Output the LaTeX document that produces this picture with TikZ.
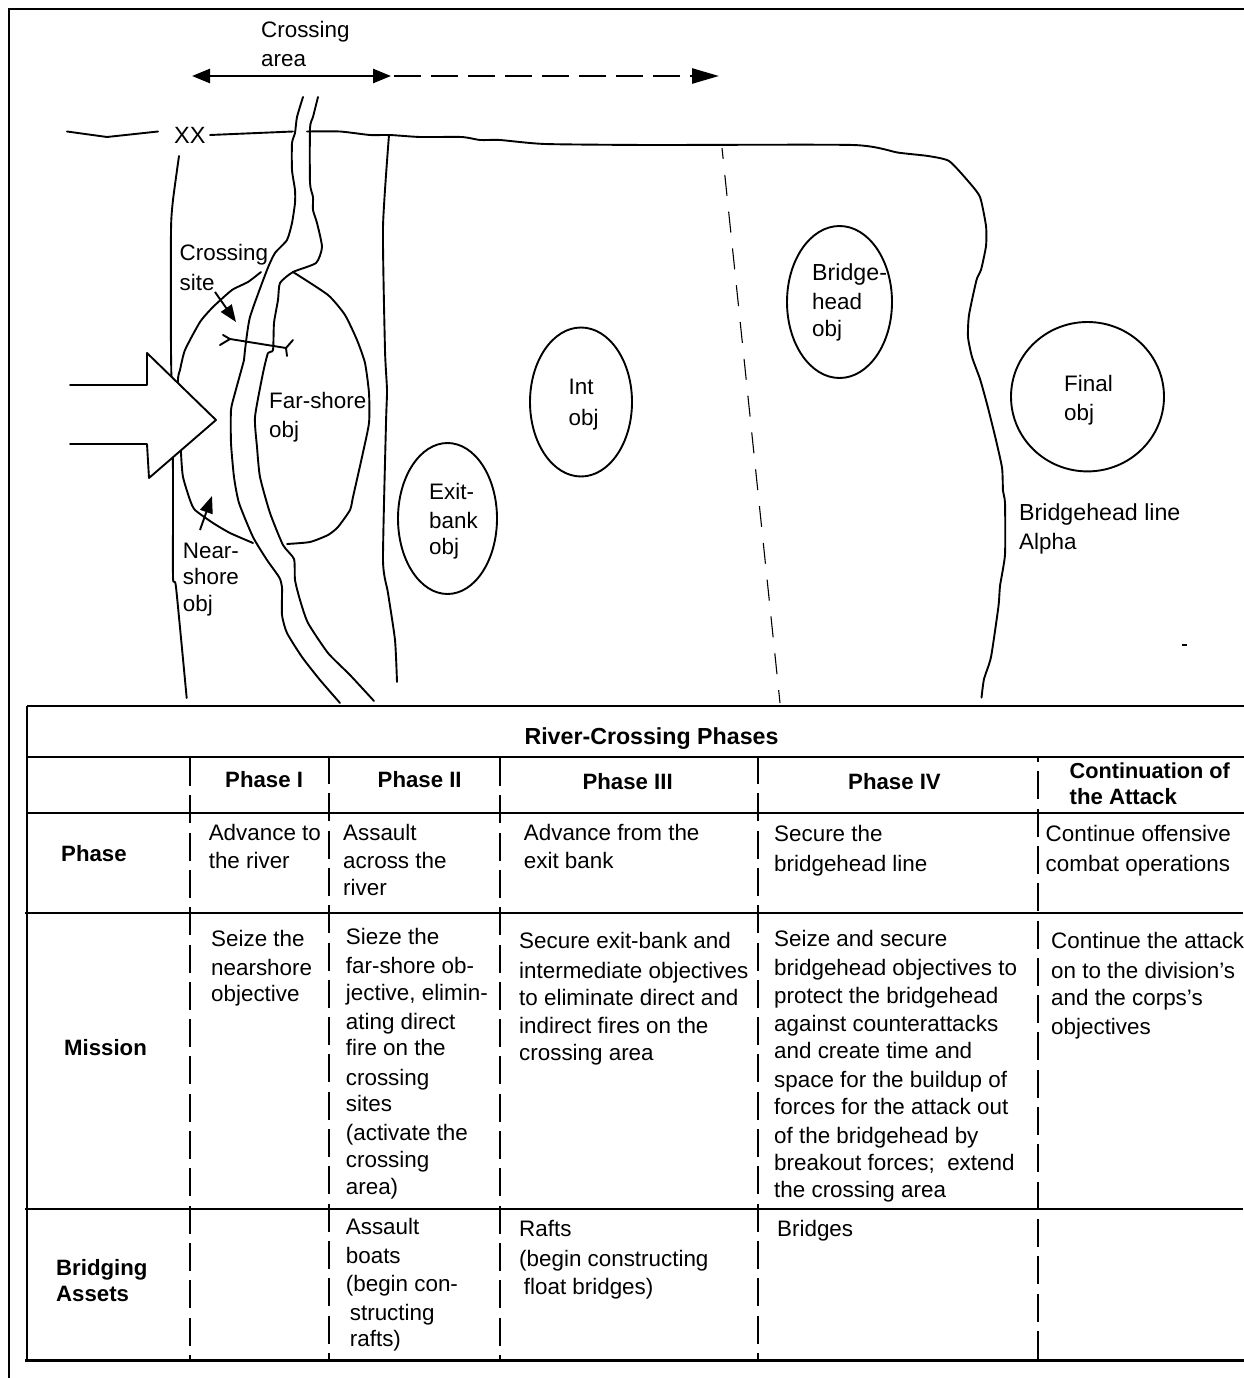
\documentclass[tikz,border=0pt]{standalone}
\usepackage{fontspec}
\setmainfont{Liberation Sans}
\usetikzlibrary{arrows.meta}
\tikzset{
  ln/.style={line width=1.9pt,line join=round,line cap=round},
  heavy/.style={line width=2.6pt},
  thinline/.style={line width=1.1pt,dash pattern=on 21pt off 16pt,dash phase=10pt},
  frameline/.style={line width=2.2pt},
  rowline/.style={line width=2pt},
  colline/.style={line width=1.9pt,dash pattern=on 28pt off 9.3pt},
  tb/.style={anchor=north west,inner sep=0pt,align=left,font=\fontsize{22.4}{26}\selectfont},
  tbb/.style={tb,font=\fontsize{22.2}{26}\selectfont\bfseries},
  bigtip/.style={-{Triangle[length=17pt,width=13pt]}},
  dtip/.style={{Triangle[length=18pt,width=14pt]}-{Triangle[length=18pt,width=14pt]}},
  ctip/.style={-{Triangle[length=27pt,width=15pt]}},
  sm/.style={smooth,tension=0.35}
}
\newcommand\tbx[4]{\node[tb] (#1) at (#2,{#3-17}) {\rule{0pt}{17pt}#4};}
\newcommand\tbz[4]{\node[tbb] (#1) at (#2,{#3-17}) {\rule{0pt}{17pt}#4};}
\newcommand\wider{\fontsize{23.2}{26}\selectfont}
\begin{document}
\begin{tikzpicture}[x=1pt,y=-1pt]
\path[use as bounding box,fill=white] (0,0) rectangle (1244,1378);
% frame
\draw[frameline] (9,1378) -- (9,9) -- (1244,9);
% crossing-area arrows
\coordinate (caL) at (192,76);
\coordinate (caM) at (391,76);
\coordinate (caD) at (394,76);
\coordinate (caR) at (719,76);
\draw[heavy,dtip] (caL) -- (caM);
\draw[heavy,ctip,dash pattern=on 27pt off 10pt] (caD) -- (caR);
% division boundary
\draw[ln] (67,131.5) -- (107,137) -- (158,131.5);
\draw[ln] (210,135) -- (293,131.5);
\draw[ln] plot[sm] coordinates {(307,131.5) (340,131.5) (370,135) (390,135) (420,137) (462,137) (480,140) (500,140) (545,144) (650,145) (853,145) (898,152.6) (928,156) (949,161) (968,181) (980,197) (986,226) (986,246) (981,270) (976.5,280) (969,315) (968,337) (972,357) (980,379) (987,404) (995,436) (1002,467.6) (1003,491) (1005,503) (1005,554.5) (1000,586) (998.5,606) (991,657) (984,679) (981.5,697.6)};
\draw[ln] plot[sm] coordinates {(179,156) (173,200) (171,230) (171,350) (173,473) (173,577) (176,587) (186.7,698)};
% river
\draw[ln] plot[sm] coordinates {(303,97) (297,117) (295,133) (292,143) (292,170) (295,190) (295,203) (292,223) (287,240) (275,253) (267,270) (250,317) (245,350) (244,360) (235,393) (231,410) (231,443) (234,477) (239,503) (253,537) (267,560) (279,577) (282,587) (282,615) (287,633) (302,657) (320,680) (340,703)};
\draw[ln] plot[sm] coordinates {(318,97) (313,117) (310,128) (310,183) (313,197) (313,210) (317,223) (322,247) (316,263) (293,272) (280,283) (278,300) (274,323) (273,350) (268,353) (263,373) (255,417) (257,447) (260,477) (270,513) (283,545) (294,559) (295,580) (300,600) (308,623) (328,653) (350,675) (374,701)};
% crossing area boundary
\draw[ln] plot[sm] coordinates {(389,135) (383,227) (385,350) (387,390) (386,423) (383,560) (388,593) (395,640) (397,682)};
% objectives
\draw[ln] plot[sm] coordinates {(261,272) (248,282) (232,290) (213,307) (200,322) (185,350) (180,370) (178,382) (181,453) (183,477) (190,500) (195,510) (213,523) (230,533) (253,543)};
\draw[ln] plot[sm] coordinates {(293,272) (328,295) (345,315) (357,340) (365,363) (369,393) (369,423) (362,457) (353,497) (350,510) (338,527) (328,535) (310,542) (287,544)};
\draw[ln] (447.5,518.5) ellipse [x radius=49.5pt,y radius=75.5pt];
\draw[ln] (581,402) ellipse [x radius=51pt,y radius=74.5pt];
\draw[ln] (839.5,302) ellipse [x radius=52.5pt,y radius=76pt];
\draw[ln] (1087.5,396.7) ellipse [x radius=76.5pt,y radius=74.7pt];
% phase line
\draw[thinline] (722,148) -- (780,703);
% crossing site symbol
\draw[ln] (230,339) -- (286,348);
\draw[ln] (220,345) -- (230,339) -- (223,335);
\draw[ln] (293,340) -- (286,348) -- (287,356);
% little arrows
\coordinate (csA) at (215,292);
\coordinate (csB) at (236,322);
\draw[ln,bigtip,line cap=butt] (csA) -- (csB);
\coordinate (nsA) at (200,530);
\coordinate (nsB) at (212,496);
\draw[ln,bigtip,line cap=butt] (nsA) -- (nsB);
% big arrow
\fill[white] (70,385) -- (147,385) -- (147,353) -- (216,420) -- (149,478) -- (147,444) -- (70,444) -- cycle;
\draw[ln] (70,385) -- (147,385) -- (147,353) -- (216,420) -- (149,478) -- (147,444) -- (70,444);
% stray mark
\draw[line width=2pt] (1182,645) -- (1187,645);
% map labels
\tbx{lCA}{261}{37}{Crossing\\[3pt]area}
\node[anchor=base west,inner sep=0pt,font=\fontsize{23.5}{26}\selectfont] (lXX) at (174,143) {XX};
\tbx{lCS}{179.5}{260.7}{Crossing\\[4pt]site}
\tbx{lFS}{269}{408}{Far-shore\\[3pt]obj}
\tbx{lNS}{182.7}{558}{Near-\\shore\\[1pt]obj}
\tbx{lEB}{429}{499}{Exit-\\[3pt]bank\\obj}
\tbx{lIO}{568.5}{394}{Int\\[5pt]obj}
\tbx{lBH}{812}{280.6}{\wider Bridge-\\[3pt]head\\[1pt]obj}
\tbx{lFO}{1064}{391.7}{Final\\[3pt]obj}
\tbx{lBL}{1019}{520}{\wider Bridgehead line\\[3pt]Alpha}
% table lines
\draw[rowline] (27,706) -- (1244,706);
\draw[rowline] (27,706) -- (27,1360);
\draw[rowline] (27,757) -- (1244,757);
\draw[rowline] (27,813) -- (1244,813);
\draw[rowline] (25,913) -- (1243,913);
\draw[rowline] (25,1209) -- (1243,1209);
\draw[line width=3pt] (25,1360) -- (1244,1360);
\draw[colline] (190,758) -- (190,1359);
\draw[colline] (329,756) -- (329,1359);
\draw[colline] (500,758) -- (500,1359);
\draw[colline] (758,756) -- (758,1359);
\draw[colline,dash phase=23pt] (1038,757) -- (1038,1359);
% table heads
\node[anchor=base,inner sep=0pt,font=\fontsize{23.2}{26}\selectfont\bfseries] (tT) at (651.5,744) {River-Crossing Phases};
\tbz{hA}{225}{787.7}{Phase I}
\tbz{hB}{377.5}{787.7}{Phase II}
\tbz{hC}{582.4}{789}{Phase III}
\tbz{hD}{848}{789}{Phase IV}
\tbz{hE}{1069.4}{778}{\fontsize{21.7}{26}\selectfont Continuation of\\the Attack}
\tbz{rA}{61}{861.7}{Phase}
\tbz{rB}{64}{1055}{Mission}
\tbz{rC}{56}{1275}{Bridging\\Assets}
% phase row
\tbx{pA}{208.6}{840}{Advance to\\[2pt]the river}
\tbx{pB}{343}{840}{Assault\\[2pt]across the\\[1.7pt]river}
\tbx{pC}{523.7}{840}{Advance from the\\[2pt]exit bank}
\tbx{pD}{774}{841.7}{Secure the\\[4pt]bridgehead line}
\tbx{pE}{1045.5}{841.7}{Continue offensive\\[4pt]combat operations}
% mission row
\tbx{mA}{211}{946.7}{Seize the\\[2.3pt]nearshore\\[0.7pt]objective}
\tbx{mB}{345.7}{944}{Sieze the\\[3pt]far-shore ob-\\[1pt]jective, elimin-\\[3pt]ating direct\\[0.7pt]fire on the\\[4pt]crossing\\sites\\[3pt](activate the\\[0.3pt]crossing\\[1pt]area)}
\tbx{mC}{519}{948}{Secure exit-bank and\\[4pt]intermediate objectives\\[1.7pt]to eliminate direct and\\[1.3pt]indirect fires on the\\[1.7pt]crossing area}
\tbx{mD}{774}{946.7}{Seize and secure\\[3pt]bridgehead objectives to\\[1.3pt]protect the bridgehead\\[2pt]against counterattacks\\[1pt]and create time and\\[3pt]space for the buildup of\\[1pt]forces for the attack out\\[3pt]of the bridgehead by\\[1pt]breakout forces;\ \ extend\\[1.7pt]the crossing area}
\tbx{mE}{1051}{948}{Continue the attack\\[4pt]on to the division's\\[1.7pt]and the corps's\\[2.3pt]objectives}
% bridging row
\tbx{bB}{345.7}{1234}{Assault\\[3pt]boats\\[2pt](begin con-\\[3pt]\hspace*{4pt}structing\\[0.7pt]\hspace*{4pt}rafts)}
\tbx{bC}{519}{1236.7}{Rafts\\[4pt](begin constructing\\[1.3pt]\hspace*{4.7pt}float bridges)}
\tbx{bD}{777}{1236.7}{Bridges}
\end{tikzpicture}
\end{document}
